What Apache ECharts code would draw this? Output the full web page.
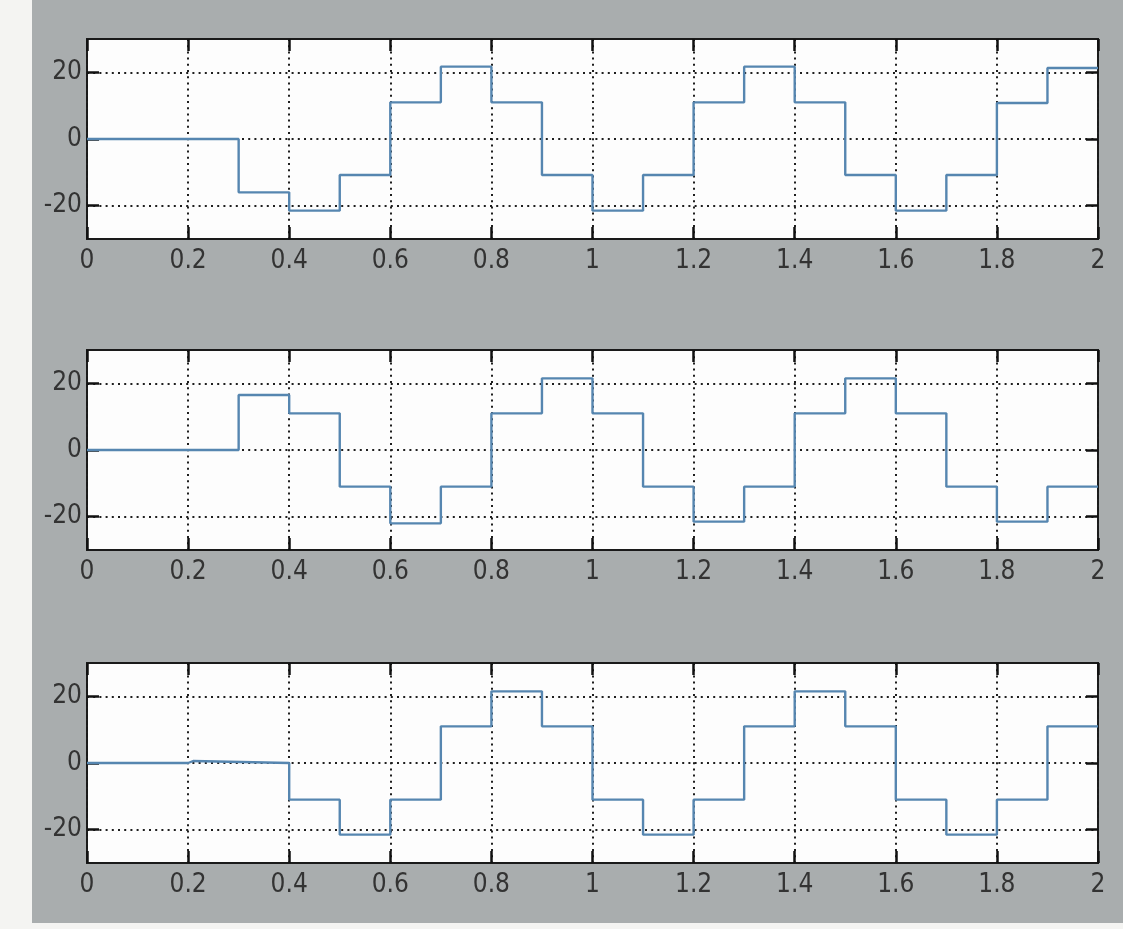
<!DOCTYPE html>
<html>
<head>
<meta charset="utf-8">
<script src="https://cdn.jsdelivr.net/npm/echarts@6/dist/echarts.min.js"></script>
<style>
  html, body { margin: 0; padding: 0; background: #f4f4f2; }
  #bg { position: absolute; left: 32px; top: 0; width: 1091px; height: 923px; background: #a9adae; }
  #chart { position: absolute; left: 0; top: 0; width: 1123px; height: 929px; }
</style>
</head>
<body>
<div id="bg"></div>
<div id="chart"></div>
<script>
// Step breakpoints (time, s) and the value held from each breakpoint onward
const t1 = [0, 0.3, 0.4, 0.5, 0.6, 0.7, 0.8, 0.9, 1.0, 1.1, 1.2, 1.3, 1.4, 1.5, 1.6, 1.7, 1.8, 1.9, 2.0];
const v1 = [0, -16, -21.5, -10.8, 11, 21.7, 11, -10.8, -21.5, -10.8, 11, 21.7, 11, -10.8, -21.5, -10.8, 10.8, 21.3, 21.3];

const t2 = [0, 0.3, 0.4, 0.5, 0.6, 0.7, 0.8, 0.9, 1.0, 1.1, 1.2, 1.3, 1.4, 1.5, 1.6, 1.7, 1.8, 1.9, 2.0];
const v2 = [0, 16.5, 11, -11, -22, -11, 11, 21.5, 11, -11, -21.5, -11, 11, 21.5, 11, -11, -21.5, -11, -11];

const t3 = [0, 0.2, 0.21, 0.4, 0.5, 0.6, 0.7, 0.8, 0.9, 1.0, 1.1, 1.2, 1.3, 1.4, 1.5, 1.6, 1.7, 1.8, 1.9, 2.0];
const v3 = [0, 0.6, 0, -11, -21.5, -11, 11, 21.5, 11, -11, -21.5, -11, 11, 21.5, 11, -11, -21.5, -11, 11, 11];

const yTickValues = [-20, 0, 20];

const panels = [[t1, v1], [t2, v2], [t3, v3]];
const gridTops = [39, 350, 663];
const gridHeights = [200, 200, 200];

const FONT = "'Liberation Sans Narrow', 'DejaVu Sans Condensed', sans-serif";
const dotted = { color: '#1e1e1e', width: 2, type: [2, 4.2] };
const tickStyle = { color: '#111', width: 2.5 };

const grid = [], xAxis = [], yAxis = [], series = [];
panels.forEach((p, i) => {
  grid.push({
    left: 87, width: 1011, top: gridTops[i], height: gridHeights[i],
    show: true, backgroundColor: '#fdfdfd', borderColor: '#1a1a1a', borderWidth: 2
  });
});
// bottom x axes
panels.forEach((p, i) => {
  xAxis.push({
    type: 'value', gridIndex: i, min: 0, max: 2, interval: 0.2, position: 'bottom',
    axisLine: { show: false, onZero: false },
    axisTick: { show: true, inside: true, length: 12, lineStyle: tickStyle },
    axisLabel: { color: '#333', fontSize: 26, fontFamily: FONT, margin: 9 },
    splitLine: { show: true, lineStyle: dotted }
  });
});
// top x axes (ticks only)
panels.forEach((p, i) => {
  xAxis.push({
    type: 'value', gridIndex: i, min: 0, max: 2, interval: 0.2, position: 'top',
    axisLine: { show: false, onZero: false },
    axisTick: { show: true, inside: true, length: 12, lineStyle: tickStyle },
    axisLabel: { show: false }, splitLine: { show: false }
  });
});
// left y axes
panels.forEach((p, i) => {
  yAxis.push({
    type: 'value', gridIndex: i, min: -30, max: 30, interval: 10, position: 'left',
    axisLine: { show: false, onZero: false },
    axisTick: { show: true, inside: true, length: 12, lineStyle: tickStyle, customValues: yTickValues },
    axisLabel: { color: '#333', fontSize: 26, fontFamily: FONT, margin: 5, customValues: yTickValues },
    splitLine: { show: true, lineStyle: dotted }
  });
});
// right y axes (ticks only)
panels.forEach((p, i) => {
  yAxis.push({
    type: 'value', gridIndex: i, min: -30, max: 30, interval: 10, position: 'right',
    axisLine: { show: false, onZero: false },
    axisTick: { show: true, inside: true, length: 12, lineStyle: tickStyle, customValues: yTickValues },
    axisLabel: { show: false, customValues: yTickValues }, splitLine: { show: false }
  });
});
panels.forEach((p, i) => {
  const [t, v] = p;
  series.push({
    type: 'line', step: 'end', xAxisIndex: i, yAxisIndex: i,
    data: t.map((x, k) => [x, v[k]]),
    showSymbol: false, symbol: 'none',
    lineStyle: { color: '#5686b0', width: 2.4 },
    z: 5
  });
});

const chart = echarts.init(document.getElementById('chart'), null, { renderer: 'canvas' });
chart.setOption({
  animation: false,
  backgroundColor: 'transparent',
  grid, xAxis, yAxis, series
});
</script>
</body>
</html>
